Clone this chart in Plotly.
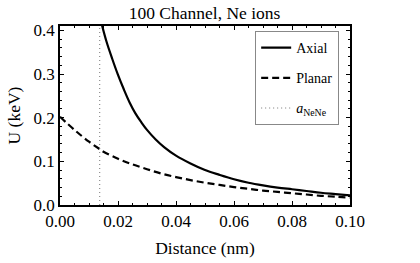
import plotly.graph_objects as go

axial_x = [0.0144, 0.016, 0.018, 0.020, 0.022, 0.024, 0.026, 0.028, 0.030, 0.033, 0.036,
           0.040, 0.045, 0.050, 0.055, 0.060, 0.065, 0.070, 0.075, 0.080, 0.085, 0.090, 0.095, 0.100]
axial_y = [0.414, 0.375, 0.335, 0.298, 0.265, 0.235, 0.210, 0.190, 0.172, 0.150, 0.132,
           0.113, 0.095, 0.080, 0.069, 0.059, 0.051, 0.045, 0.040, 0.036, 0.032, 0.028, 0.025, 0.022]

planar_x = [0.000, 0.005, 0.010, 0.0137, 0.015, 0.020, 0.025, 0.030, 0.035, 0.040, 0.045,
            0.050, 0.055, 0.060, 0.065, 0.070, 0.075, 0.080, 0.085, 0.090, 0.095, 0.100]
planar_y = [0.202, 0.172, 0.145, 0.128, 0.122, 0.106, 0.093, 0.082, 0.072, 0.064, 0.057,
            0.051, 0.046, 0.041, 0.037, 0.033, 0.030, 0.027, 0.024, 0.021, 0.019, 0.017]

a_nene = 0.0137
y_top = 0.41

x_ticks = [0.00, 0.02, 0.04, 0.06, 0.08, 0.10]
x_ticklabels = ["0.00", "0.02", "0.04", "0.06", "0.08", "0.10"]
y_ticks = [0.0, 0.1, 0.2, 0.3, 0.4]
y_ticklabels = ["0.0", "0.1", "0.2", "0.3", "0.4"]

serif = "'Liberation Serif', 'Times New Roman', serif"

fig = go.Figure()
fig.add_trace(go.Scatter(x=axial_x, y=axial_y, mode="lines", name="Axial",
                         line=dict(color="black", width=2.2, shape="spline"),
                         legendgroup="a"))
fig.add_trace(go.Scatter(x=planar_x, y=planar_y, mode="lines", name="Planar",
                         line=dict(color="black", width=2.2, dash="7px,4px", shape="spline"),
                         legendgroup="b"))
fig.add_trace(go.Scatter(x=[a_nene, a_nene], y=[0, y_top], mode="lines",
                         name="<i>a</i><sub>NeNe</sub>",
                         line=dict(color="#777777", width=1, dash="1px,3px"),
                         legendgroup="c"))

axis_common = dict(showline=True, linecolor="black", linewidth=1.5, mirror="allticks",
                   ticks="inside", ticklen=4, tickcolor="black", tickwidth=1,
                   showgrid=False, zeroline=False, automargin=False,
                   tickfont=dict(family=serif, size=17, color="black"))

fig.update_xaxes(range=[0, 0.1], tickvals=x_ticks, ticktext=x_ticklabels,
                 minor=dict(dtick=0.005, tick0=0, ticks="inside", ticklen=2, tickcolor="black"),
                 title=dict(text="Distance (nm)", font=dict(family=serif, size=17.5, color="black"),
                            standoff=12),
                 **axis_common)
fig.update_yaxes(range=[0, y_top], tickvals=y_ticks, ticktext=y_ticklabels,
                 minor=dict(dtick=0.02, tick0=0, ticks="inside", ticklen=2, tickcolor="black"),
                 title=dict(text="U (keV)", font=dict(family=serif, size=17.5, color="black"),
                            standoff=8),
                 **axis_common)

fig.update_layout(
    width=420, height=263, autosize=False,
    margin=dict(l=60, r=70, t=26, b=58),
    paper_bgcolor="white", plot_bgcolor="white",
    font=dict(family=serif),
    title=dict(text="100 Channel, Ne ions", x=0.487, xanchor="center",
               y=1 - 12.5 / 263, yanchor="middle", yref="container",
               font=dict(family=serif, size=17.5, color="black")),
    legend=dict(x=0.673, y=0.972, xanchor="left", yanchor="top",
                bordercolor="#888888", borderwidth=1, bgcolor="white",
                font=dict(family=serif, size=14, color="black"),
                tracegroupgap=9, itemwidth=30),
    showlegend=True,
)

fig.write_html("out.html", config={"displayModeBar": False},
               post_script="document.body.style.margin='0';")
